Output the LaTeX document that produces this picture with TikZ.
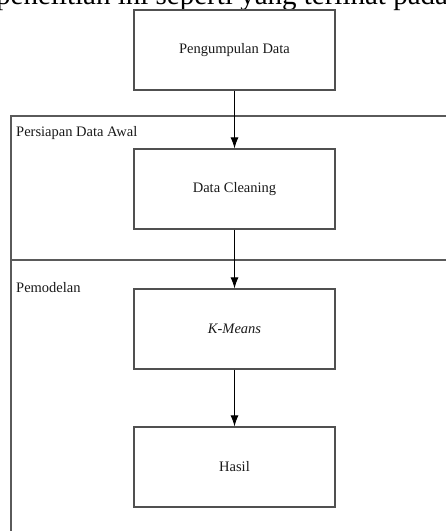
\documentclass[tikz,border=0pt]{standalone}
\usepackage{fontspec}
\setmainfont{Liberation Serif}
\usetikzlibrary{arrows.meta}
\definecolor{boxgray}{HTML}{505050}
\definecolor{framegray}{HTML}{5A5A5A}
\definecolor{txt}{HTML}{1A1A1A}
\begin{document}
\begin{tikzpicture}[x=1pt,y=-1pt,
  stepbox/.style={draw=boxgray,line width=1.2pt,minimum width=201pt,minimum height=80pt,inner sep=0pt,text=txt,font=\fontsize{14.5}{17}\selectfont},
  frame/.style={draw=framegray,line width=1.2pt},
  flow/.style={draw=black,line width=0.9pt,-{Latex[length=11pt,width=8pt]}},
  lbl/.style={anchor=west,inner sep=0pt,text=txt,font=\fontsize{14.5}{17}\selectfont}]
\useasboundingbox (0,0) rectangle (446,531);
\clip (0,0) rectangle (446,531);
\fill[white] (0,0) rectangle (446,531);
\node[anchor=base west,inner sep=0pt,font=\fontsize{29}{34}\selectfont] (intro) at (-4,4.5) {penelitian ini seperti yang terlihat pada};
\draw[frame] (470,116) -- (11,116) -- (11,560);
\draw[frame] (11,260) -- (470,260);
\node[lbl] (prep) at (16,133) {Persiapan Data Awal};
\node[lbl] (model) at (16,288) {Pemodelan};
\node[stepbox] (collect) at (234.5,50) {Pengumpulan Data};
\node[stepbox] (clean) at (234.5,189) {Data Cleaning};
\node[stepbox] (kmeans) at (234.5,329) {\textit{K-Means}};
\node[stepbox] (result) at (234.5,467) {Hasil};
\draw[flow] (collect) -- (clean);
\draw[flow] (clean) -- (kmeans);
\draw[flow] (kmeans) -- (result);
\end{tikzpicture}
\end{document}
